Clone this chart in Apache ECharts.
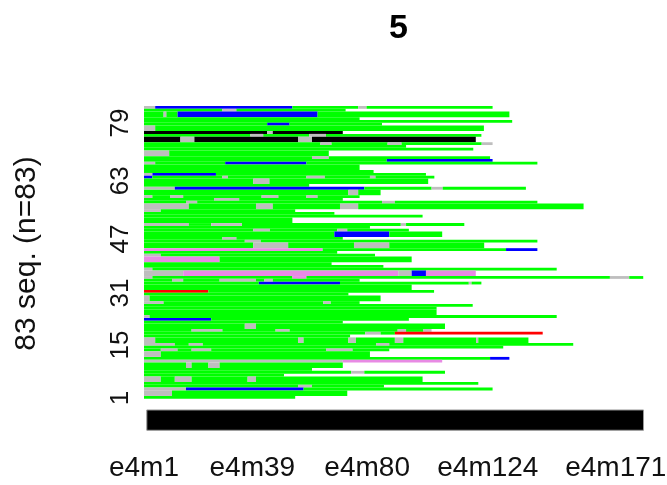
<!DOCTYPE html>
<html><head><meta charset="utf-8">
<style>html,body{margin:0;padding:0;background:#fff}#c{width:667px;height:485px}#c canvas{filter:blur(0.7px)}</style>
<script src="https://cdn.jsdelivr.net/npm/echarts@6/dist/echarts.min.js"></script>
</head><body><div id="c"></div>
<script>
const stateCodes = ['G','K','B','P','R','N'];
const stateColors = ['#00ff00','#bebebe','#0000ff','#e88ae4','#ff0000','#000000'];
// Each sequence, top row (83) first: state letter + the month at which that spell ends
const sequences = [
"K4 B53 G76.5 K79.5 G124.5","G28 K33 G72","G7 K8 G12 B62 G130.5","G77","G131.5","G44 B52 G85","K4 G121.4","N44 K46 N71",
"G38 K42.6 G59 K65 G120.5","N13 K18 N55 K60 N118.5","G63 K67 G87 K92 G120.6 K124.5","G93.6","G117.6","K9 G66","G60 K66 G123.6","G86.7 B124.5",
"K4 G29 B58 G140.5","G77","G82","K3 B25.7 G100.7","B3 G28 K30 G58 K64.6 G80.7 K82.7 G103.7","G39 K44.8 G101.5","G59","K11 B78.7 G102.7 K106.7 G136.4",
"G73 K76.5 G84.5","K3 G9.3 K14 G42 K48 G58 K62 G77","G25 K34 G71","G15 K19 G85 K89.6 G140.5","K16 G40 K46 G70 K76.5 G157","K6 G54","G68","G99.5",
"G53","K16 G24 K35 G91.7 K93.6 G114.4","G80.7","G39 K45 G69 K72.6 G94.6","G68 B87.6 G106.5","G28 K33 G71","G36 K41.7 G140.5","G39 K51.5 G75 K87.6 G121.5",
"P63.8 G129.3 B140.5","G69","K6 G82.5","P27 G95.6","G67","G85.5","K3 G147.4","K14 P90.8 K95.6 B100.7 P118.5",
"K3 G53 P58 G166.4 K173.3 G178.3","G10 K14 G27 K40 G43 K46 G77","G41 B70 G116 K117 G120.5","G95.6","R23 G103.6","G73","K2 G84.5","K7 G64 K66.7 G77",
"G117.4","G104.5","G104.5","K2 G147.4","B24 G94.6","G71","G36 K40 G107.5","G17 K28 G47 K52 G90.6 K93.6 G99.8 K102.7",
"G79 K84.5 G89.6 R142.4","G73.6","K4 G55 K57 G73 K75.7 G89.6 K92.6 G118.6 K119.4 G137.3","K11 G16 K21 G83 K87.6 G153.3","G128.3","G6 K12 G17 K24 G65 K74.5 G87.6","K6 G80.7","G123.6 B130.5",
"K71 P106.5","G15 K17 G23 K27 G71","G60","G74 K78.7 G107.5","G50","K6 G11 K17 G37 K40 G99.5","G119.4","G55 K60 G85.7",
"K15 B57 G124.5","K10 G72.6","G54"
];
const xTickLabels = ['e4m1','e4m39','e4m80','e4m124','e4m171'];
const xLabelPlaces = [0,38.7,79.7,122.8,168.5];
const yTickLabels = ['1','15','31','47','63','79'];
const yLabelPlaces = [0.3,15.3,30,45.3,61.8,78.2];
const titleText = '5';
const yTitle = '83 seq. (n=83)';
const totalMonths = 178.4;

const spells = [];
sequences.forEach((s,i)=>{
  const row = sequences.length - i; let start = 0;
  s.split(' ').forEach(p=>{
    const end = parseFloat(p.slice(1));
    spells.push([start,end,row,stateCodes.indexOf(p[0])]);
    start = end;
  });
});
const chart = echarts.init(document.getElementById('c'),null,{renderer:'canvas'});
const font = '"Liberation Sans", Arial, sans-serif';
// the reference is an enlarged low-resolution raster: rows fall on its coarse pixel grid
const gridTop = 106, coarse = 2.788, phase = 0.355;
const snap = y => gridTop + coarse*Math.floor(phase + (y-gridTop)/coarse + 1e-6);
chart.setOption({
  animation:false,
  backgroundColor:'#fff',
  title:{text:titleText,left:384,top:7,textStyle:{fontFamily:font,fontWeight:'bold',fontSize:34,color:'#000'}},
  grid:{left:144,top:gridTop,width:499.5,height:324.8,containLabel:false,outerBoundsMode:'none'},
  graphic:[{type:'text',x:27,y:253.5,rotation:Math.PI/2,
    style:{text:yTitle,align:'center',verticalAlign:'middle',fontFamily:font,fontSize:30,fill:'#111'}}],
  xAxis:{type:'value',min:0,max:178.4,position:'bottom',
    axisLine:{show:false},axisTick:{show:false},splitLine:{show:false},
    axisLabel:{customValues:xLabelPlaces,formatter:v=>xTickLabels[xLabelPlaces.indexOf(v)],
      fontFamily:font,fontSize:28,color:'#111',margin:23,hideOverlap:false,showMinLabel:true,showMaxLabel:true}},
  yAxis:{type:'value',min:-9,max:83,
    axisLine:{show:false},axisTick:{show:false},splitLine:{show:false},
    axisLabel:{customValues:yLabelPlaces,formatter:v=>yTickLabels[yLabelPlaces.indexOf(v)],rotate:90,
      fontFamily:font,fontSize:26,color:'#111',margin:10,hideOverlap:false}},
  series:[{
    type:'custom',coordinateSystem:'cartesian2d',clip:false,silent:true,data:spells,
    encode:{x:[0,1],y:2},
    renderItem:(p,api)=>{
      const a=api.coord([api.value(0),api.value(2)]), b=api.coord([api.value(1),api.value(2)-1]);
      const y0=snap(a[1]), y1=snap(b[1]);
      return {type:'rect',shape:{x:a[0],y:y0,width:b[0]-a[0],height:y1-y0},
        style:{fill:stateColors[api.value(3)]}};
    }
  },{
    type:'custom',coordinateSystem:'cartesian2d',silent:true,data:[[1,totalMonths]],
    renderItem:(p,api)=>{
      const a=api.coord([api.value(0),-3.1]), b=api.coord([api.value(1),-8.85]);
      return {type:'rect',shape:{x:a[0],y:a[1],width:b[0]-a[0],height:b[1]-a[1]},
        style:{fill:'#000',stroke:'#999',lineWidth:1}};
    }
  }]
});
</script></body></html>
